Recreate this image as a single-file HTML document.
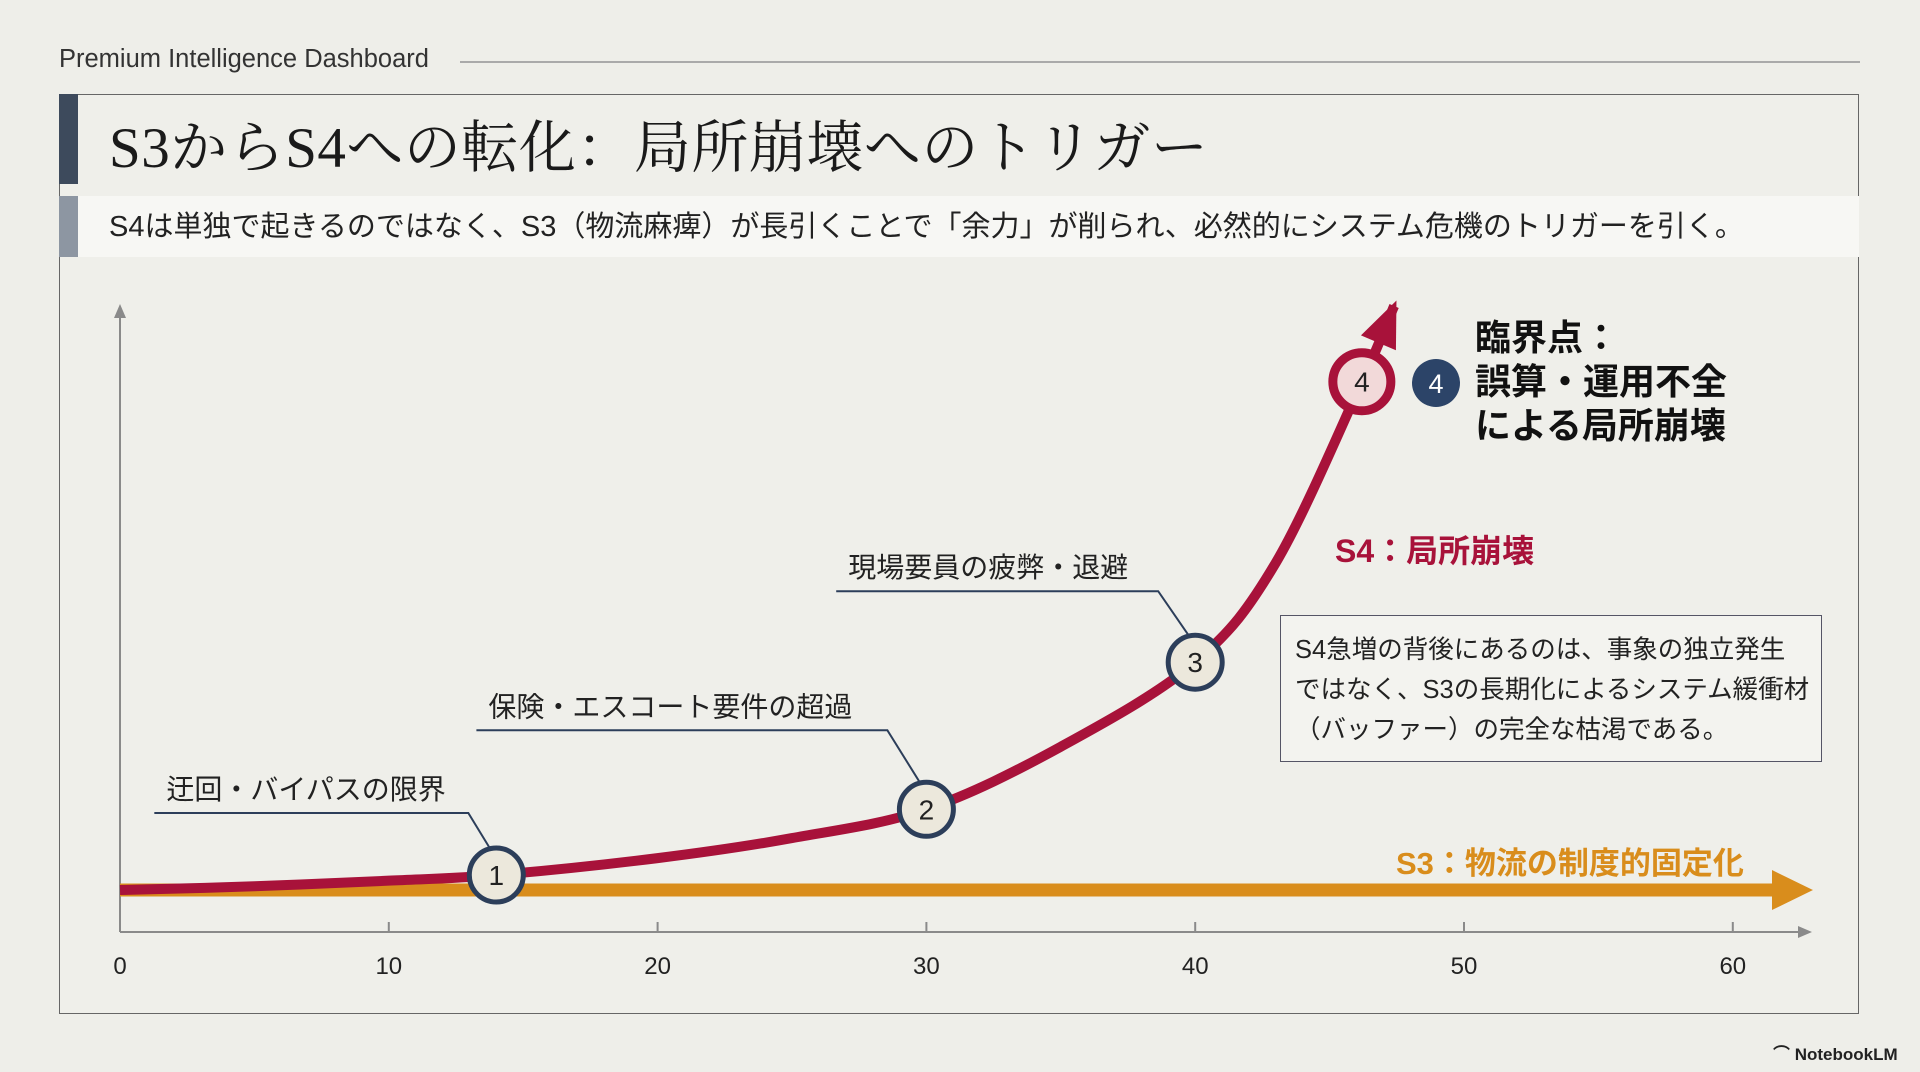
<!DOCTYPE html>
<html><head><meta charset="utf-8">
<style>
html,body{margin:0;padding:0;}
body{width:1920px;height:1072px;background:#eeeee9;position:relative;overflow:hidden;font-family:"Liberation Sans","Noto Sans CJK JP",sans-serif;}
.abs{position:absolute;}
</style></head>
<body>
<div class="abs" style="left:59px;top:45px;font-size:25.5px;color:#333;">Premium Intelligence Dashboard</div>
<div class="abs" style="left:460px;top:61px;width:1400px;height:2px;background:#aaa;"></div>
<div class="abs" style="left:59px;top:94px;width:1800px;height:920px;border:1.5px solid #666;box-sizing:border-box;background:#efefea;"></div>
<div class="abs" style="left:59px;top:94px;width:19px;height:90px;background:#3d4a5c;"></div>
<div class="abs" style="left:109px;top:116px;font-family:'Liberation Serif','Noto Serif CJK SC',serif;font-size:57px;line-height:66px;letter-spacing:0.5px;color:#1a1a1a;">S3からS4への転化：局所崩壊へのトリガー</div>
<div class="abs" style="left:59px;top:196px;width:1800px;height:61px;background:#f7f7f4;"></div>
<div class="abs" style="left:59px;top:196px;width:19px;height:61px;background:#8d96a2;"></div>
<div class="abs" style="left:109px;top:209px;font-size:29px;line-height:36px;color:#222;">S4は単独で起きるのではなく、S3（物流麻痺）が長引くことで「余力」が削られ、必然的にシステム危機のトリガーを引く。</div>

<svg class="abs" style="left:0;top:0" width="1920" height="1072">
<g id="axes"></g><g id="series"></g><g id="markers"></g>
</svg>

<div class="abs" style="left:1475px;top:316px;font-size:36px;line-height:44px;font-weight:bold;color:#111;">臨界点：<br>誤算・運用不全<br>による局所崩壊</div>
<div class="abs" style="left:1335px;top:526px;font-size:32px;font-weight:bold;color:#a8123a;">S4：局所崩壊</div>
<div class="abs" style="left:1396px;top:838px;font-size:31px;font-weight:bold;color:#d98d1c;">S3：物流の制度的固定化</div>
<div class="abs" style="left:1280px;top:615px;width:542px;height:147px;border:1.5px solid #556;box-sizing:border-box;background:#f3f3ef;padding:14px 0 0 14px;font-size:25.5px;line-height:40px;color:#222;white-space:nowrap;">S4急増の背後にあるのは、事象の独立発生<br>ではなく、S3の長期化によるシステム緩衝材<br>（バッファー）の完全な枯渇である。</div>
<div class="abs" style="left:1773px;top:1040px;font-size:17px;font-weight:bold;color:#222;">⌒ NotebookLM</div>

<script>
const xTicks=[0,10,20,30,40,50,60];
const s4X=[0,5,10,14,20,25,30,35,40,43,46.2,47.4];
const s4Y=[6.7,7.3,8.2,9.1,11.8,15,19.6,29.6,43.1,59,87.9,100];
const s3Level=6.7;
const markerX=[14,30,40,46.2];
const markerY=[9.1,19.6,43.1,87.9];
const markerLabels=["1","2","3","4"];
const calloutText=["迂回・バイパスの限界","保険・エスコート要件の超過","現場要員の疲弊・退避"];

const X0=120,XS=26.88,Y0=932,YS=6.26;
const sx=v=>X0+v*XS, sy=v=>Y0-v*YS;
const NS="http://www.w3.org/2000/svg";
function mk(tag,attrs,parent){const e=document.createElementNS(NS,tag);for(const k in attrs)e.setAttribute(k,attrs[k]);parent.appendChild(e);return e;}
const axes=document.getElementById('axes'),series=document.getElementById('series'),markers=document.getElementById('markers');

let e=mk('line',{x1:X0,y1:Y0,x2:1805,y2:Y0,stroke:'#8a8a8a','stroke-width':2},axes);

e=mk('path',{d:'M1812 932 L1798 926 L1798 938 Z',fill:'#8a8a8a'},axes);

e=mk('line',{x1:X0,y1:Y0,x2:X0,y2:312,stroke:'#8a8a8a','stroke-width':2},axes);

e=mk('path',{d:'M120 304 L114 318 L126 318 Z',fill:'#8a8a8a'},axes);

xTicks.forEach(t=>{
 let l=mk('line',{x1:sx(t),y1:Y0-10,x2:sx(t),y2:Y0,stroke:'#8a8a8a','stroke-width':2},axes);
 
 let tx=mk('text',{x:sx(t),y:974,'text-anchor':'middle','font-size':24,fill:'#222','font-family':'Liberation Sans, sans-serif'},axes);
 tx.textContent=t;
 
});

e=mk('line',{x1:sx(0),y1:sy(s3Level),x2:1782,y2:sy(s3Level),stroke:'#d98d1c','stroke-width':13},series);

const ay=sy(s3Level);
e=mk('path',{d:`M1813 ${ay} L1772 ${ay-20} L1772 ${ay+20} Z`,fill:'#d98d1c'},series);


const P=s4X.map((x,i)=>[sx(x),sy(s4Y[i])]);
let d=`M${P[0][0]} ${P[0][1]}`;
for(let i=0;i<P.length-1;i++){
 const p0=P[Math.max(0,i-1)],p1=P[i],p2=P[i+1],p3=P[Math.min(P.length-1,i+2)];
 const c1=[p1[0]+(p2[0]-p0[0])/6,p1[1]+(p2[1]-p0[1])/6],c2=[p2[0]-(p3[0]-p1[0])/6,p2[1]-(p3[1]-p1[1])/6];
 d+=` C${c1[0]} ${c1[1]} ${c2[0]} ${c2[1]} ${p2[0]} ${p2[1]}`;
}
e=mk('path',{d:d,fill:'none',stroke:'#a8123a','stroke-width':10,'stroke-linecap':'butt'},series);

const tip=P[P.length-1],pre=P[P.length-2];
const ang=Math.atan2(tip[1]-pre[1],tip[0]-pre[0]);
const L=40,W=19,bx=tip[0]-L*Math.cos(ang),by=tip[1]-L*Math.sin(ang);
const px=-Math.sin(ang)*W,py=Math.cos(ang)*W;
const tx0=tip[0]+6*Math.cos(ang),ty0=tip[1]+6*Math.sin(ang);
e=mk('path',{d:`M${tx0} ${ty0} L${bx+px} ${by+py} L${bx-px} ${by-py} Z`,fill:'#a8123a'},series);


const offs=[[-342,-62,-28],[-450,-79,-39],[-359,-71,-37]];
calloutText.forEach((t,i)=>{
 const mx=sx(markerX[i]),my=sy(markerY[i]);
 const o=offs[i];const ly=my+o[1];const kx=mx+o[2];
 let pl=mk('polyline',{points:`${mx+o[0]},${ly} ${kx},${ly} ${mx-6},${my-26}`,fill:'none',stroke:'#2c3e5a','stroke-width':2},markers);
 
 let tx=mk('text',{x:mx+o[0]+12,y:ly-14,'font-size':28,fill:'#222','font-family':'Liberation Sans, Noto Sans CJK JP, sans-serif'},markers);
 tx.textContent=t;
 
});

markerX.forEach((x,i)=>{
 const last=i===markerX.length-1;
 let c=mk('circle',{cx:sx(x),cy:sy(markerY[i]),r:last?29:27,fill:last?'#f2d9d9':'#ece8dc',stroke:last?'#a8123a':'#2c3e5a','stroke-width':last?9:5},markers);
 
 let tx=mk('text',{x:sx(x),y:sy(markerY[i])+10,'text-anchor':'middle','font-size':28,fill:'#222','font-family':'Liberation Sans, sans-serif'},markers);
 tx.textContent=markerLabels[i];
 
});
e=mk('circle',{cx:1436,cy:383,r:24,fill:'#2c4468'},markers);

e=mk('text',{x:1436,y:393,'text-anchor':'middle','font-size':27,fill:'#fff','font-family':'Liberation Sans, sans-serif'},markers);
e.textContent='4';

</script>
</body></html>
